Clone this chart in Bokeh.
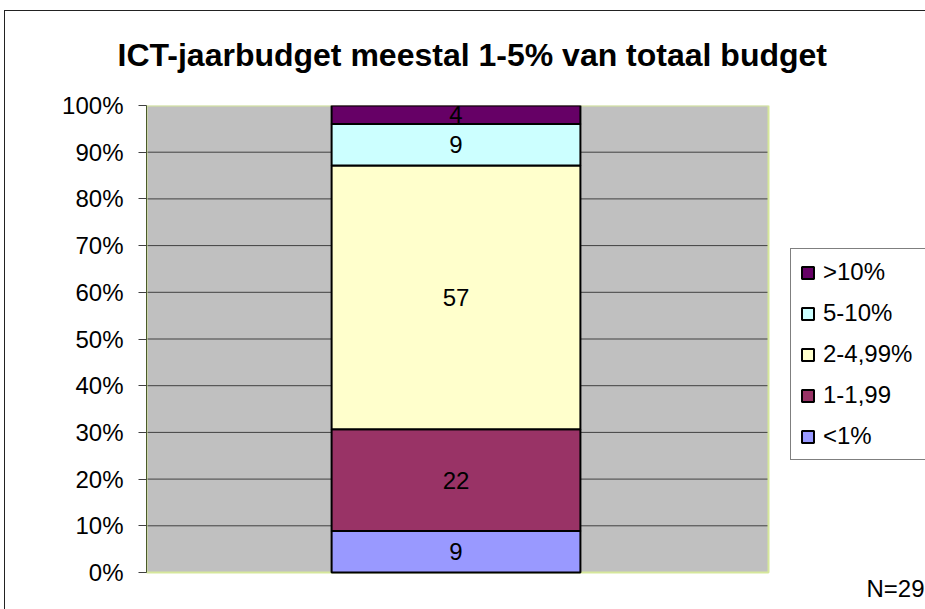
from bokeh.plotting import figure
from bokeh.models import (Range1d, FixedTicker, NumeralTickFormatter, Legend, LegendItem,
                          Label, ColumnDataSource, InlineStyleSheet)
from bokeh.embed import file_html
from bokeh.resources import INLINE
from bokeh.core.properties import value

# ---- data ----
categories = ["<1%", "1-1,99", "2-4,99%", "5-10%", ">10%"]
counts = [9, 22, 57, 9, 4]
colors = ["#9999FF", "#993366", "#FFFFCC", "#CCFFFF", "#660066"]
y_ticks = [0.0, 0.1, 0.2, 0.3, 0.4, 0.5, 0.6, 0.7, 0.8, 0.9, 1.0]
title_text = "ICT-jaarbudget meestal 1-5% van totaal budget"
note_text = "N=29"

FONT = "Liberation Sans"
FS = "24px"

# ---- layout (pixels) ----
W, H = 925, 609
PLOT_L, PLOT_R, PLOT_T, PLOT_B = 146, 768, 105, 572
sx = PLOT_R - PLOT_L          # px per x-unit (plot area = 0..1)
sy = PLOT_B - PLOT_T          # px per y-unit (0..100%)

total = float(sum(counts))
bottoms, tops = [], []
acc = 0.0
for c in counts:
    bottoms.append(acc / total)
    acc += c
    tops.append(acc / total)

p = figure(width=W, height=H, output_backend="svg", toolbar_location=None,
           x_range=Range1d(0, (W - PLOT_L) / sx),
           y_range=Range1d(-(H - PLOT_B) / sy, 1),
           min_border_left=PLOT_L, min_border_right=0, min_border_top=PLOT_T, min_border_bottom=0)

p.title.text = title_text
p.title.text_font = FONT
p.title.text_font_size = "32px"
p.title.text_font_style = "bold"
p.title.text_color = "black"
p.title.align = "left"
p.title.offset = -29
p.title.standoff = 65

p.background_fill_color = "white"
p.border_fill_color = "white"
p.outline_line_color = None

p.xaxis.visible = False
p.xgrid.visible = False
p.ygrid.visible = False

ya = p.yaxis[0]
ya.bounds = (0, 1)
ya.ticker = FixedTicker(ticks=y_ticks)
ya.formatter = NumeralTickFormatter(format="0%")
ya.major_label_text_font = FONT
ya.major_label_text_font_size = FS
ya.major_label_text_color = "black"
ya.axis_line_color = "#4A5A2A"
ya.major_tick_line_color = "#404040"
ya.major_tick_out = 8
ya.major_tick_in = 0
ya.minor_tick_line_color = None
ya.major_label_standoff = 15

# plot area background
p.quad(left=[0], right=[1], bottom=[0], top=[1], fill_color="#C0C0C0", line_color=None)
inner = y_ticks[1:-1]
p.segment(x0=[0] * len(inner), x1=[1] * len(inner), y0=inner, y1=inner,
          line_color="#404040", line_width=1)
p.quad(left=[0], right=[1], bottom=[0], top=[1], fill_color=None, line_color="#D6E79B", line_width=2)
p.segment(x0=[0], x1=[0], y0=[0], y1=[1], line_color="#4A5A2A", line_width=1)

renderers = []
for i, cat in enumerate(categories):
    src = ColumnDataSource(dict(x=[0.4976], bottom=[bottoms[i]], top=[tops[i]]))
    r = p.vbar(x="x", width=0.40, bottom="bottom", top="top", source=src,
               fill_color=colors[i], line_color="black", line_width=2)
    renderers.append(r)

lab_src = ColumnDataSource(dict(
    x=[0.4976] * len(counts),
    y=[(b + t) / 2 for b, t in zip(bottoms, tops)],
    text=[str(c) for c in counts]))
p.text(x="x", y="y", text="text", source=lab_src, text_align="center", text_baseline="middle",
       text_font=value(FONT), text_font_size=FS, text_color="black")

items = [LegendItem(label=categories[i], renderers=[renderers[i]]) for i in reversed(range(len(categories)))]
legend = Legend(items=items, location=(790 - PLOT_L, H - 460), orientation="vertical",
                label_text_font=FONT, label_text_font_size=FS, label_text_color="black",
                glyph_width=15, glyph_height=15, label_height=27, label_width=120,
                label_standoff=8, spacing=13, padding=9, margin=0,
                border_line_color="black", border_line_width=1,
                background_fill_color="white", background_fill_alpha=1.0)
p.add_layout(legend, "center")

note = Label(x=(866 - PLOT_L) / sx, y=-(588 - PLOT_B) / sy, text=note_text, text_font=FONT,
             text_font_size=FS, text_baseline="middle", text_align="left", text_color="black")
p.add_layout(note)

p.stylesheets = [InlineStyleSheet(css=(
    ":host { position: relative; }"
    ":host::after { content: ''; position: absolute; left: 4px; top: 10px; right: -20px; bottom: -20px;"
    " border-left: 1px solid #222; border-top: 1px solid #222; pointer-events: none; }"))]

open("out.html", "w").write(file_html(p, INLINE))
